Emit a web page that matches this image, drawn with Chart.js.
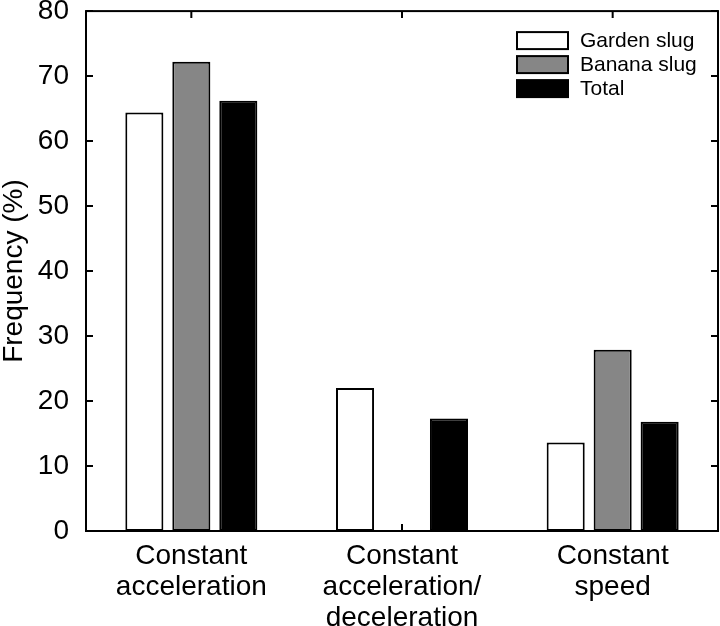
<!DOCTYPE html>
<html>
<head>
<meta charset="utf-8">
<script src="https://cdn.jsdelivr.net/npm/chart.js@4"></script>
<style>
  body { margin: 0; background: #fff; }
  #wrap { width: 720px; height: 626px; }
</style>
</head>
<body>
<div id="wrap"><canvas id="slug-chart" width="720" height="626"></canvas></div>
<script>
// Chart data
const categories = [
    ['Constant', 'acceleration'],
    ['Constant', 'acceleration/', 'deceleration'],
    ['Constant', 'speed']
];
const seriesNames = ['Garden slug', 'Banana slug', 'Total'];
const gardenSlug = [64.4, 22.0, 13.6];
const bananaSlug = [72.2, 0, 27.9];
const totalValues = [66.2, 17.3, 16.8];
const yTicks = [0, 10, 20, 30, 40, 50, 60, 70, 80];

const FONT = '"Liberation Sans", Arial, Helvetica, sans-serif';

/**
 * MATLAB style box with inward ticks
 */
const boxPlugin = {
    id: 'matlabBox',
    beforeDatasetsDraw(chart) {
        const { ctx, chartArea: a, scales } = chart;
        const len = 7;
        ctx.save();
        ctx.strokeStyle = '#000';
        ctx.lineWidth = 2;
        ctx.beginPath();
        yTicks.forEach(v => {
            const y = scales.y.getPixelForValue(v);
            ctx.moveTo(a.left, y); ctx.lineTo(a.left + len, y);
            ctx.moveTo(a.right, y); ctx.lineTo(a.right - len, y);
        });
        categories.forEach((c, i) => {
            const x = scales.x.getPixelForValue(i);
            ctx.moveTo(x, a.bottom); ctx.lineTo(x, a.bottom - len);
            ctx.moveTo(x, a.top); ctx.lineTo(x, a.top + len);
        });
        ctx.stroke();
        ctx.restore();
    },
    afterDatasetsDraw(chart) {
        const { ctx, chartArea: a } = chart;
        ctx.save();
        ctx.strokeStyle = '#000';
        ctx.lineWidth = 2;
        ctx.strokeRect(a.left, a.top, a.right - a.left, a.bottom - a.top);
        ctx.restore();
    },
    afterDraw(chart) {
        // legend in the top right corner of the plot
        const { ctx, chartArea: a } = chart;
        const boxW = 51, boxH = 17, pitch = 24;
        const x0 = a.right - 201;
        const y0 = a.top + 21;
        ctx.save();
        ctx.font = '21px ' + FONT;
        ctx.textBaseline = 'middle';
        ctx.textAlign = 'left';
        chart.data.datasets.forEach((ds, i) => {
            const y = y0 + i * pitch;
            ctx.fillStyle = ds.backgroundColor;
            ctx.fillRect(x0, y, boxW, boxH);
            ctx.strokeStyle = '#000';
            ctx.lineWidth = 2;
            ctx.strokeRect(x0, y, boxW, boxH);
            ctx.fillStyle = '#000';
            ctx.fillText(ds.label, x0 + 63, y + boxH / 2 + 1);
        });
        ctx.restore();
    }
};

const colors = ['#ffffff', '#868686', '#000000'];
const seriesData = [gardenSlug, bananaSlug, totalValues];

const ctx = document.getElementById('slug-chart').getContext('2d');
new Chart(ctx, {
    type: 'bar',
    data: {
        labels: categories,
        datasets: seriesNames.map((name, i) => ({
            label: name,
            data: seriesData[i],
            backgroundColor: colors[i],
            borderColor: '#000',
            borderWidth: 2,
            borderSkipped: false,
            categoryPercentage: 0.669,
            barPercentage: 0.81
        }))
    },
    options: {
        responsive: false,
        animation: false,
        layout: { padding: { top: 0, right: 2, left: 0, bottom: 0 } },
        plugins: {
            legend: { display: false },
            tooltip: { enabled: false }
        },
        scales: {
            x: {
                grid: { display: false },
                border: { display: false },
                ticks: {
                    color: '#000',
                    font: { family: FONT, size: 28, lineHeight: 1.1 },
                    padding: 2,
                    maxRotation: 0,
                    autoSkip: false
                },
                afterFit: scale => { scale.height = 95; }
            },
            y: {
                min: 0,
                max: 80,
                grid: { display: false },
                border: { display: false },
                ticks: {
                    stepSize: 10,
                    color: '#000',
                    // small line height keeps the "80" overhang down to ~11px
                    font: { family: FONT, size: 28, lineHeight: 0.15 },
                    padding: 9
                },
                title: {
                    display: true,
                    text: 'Frequency (%)',
                    color: '#000',
                    font: { family: FONT, size: 28, lineHeight: 1 },
                    padding: 0
                },
                afterFit: scale => { scale.width = 86; }
            }
        }
    },
    plugins: [boxPlugin]
});
</script>
</body>
</html>
